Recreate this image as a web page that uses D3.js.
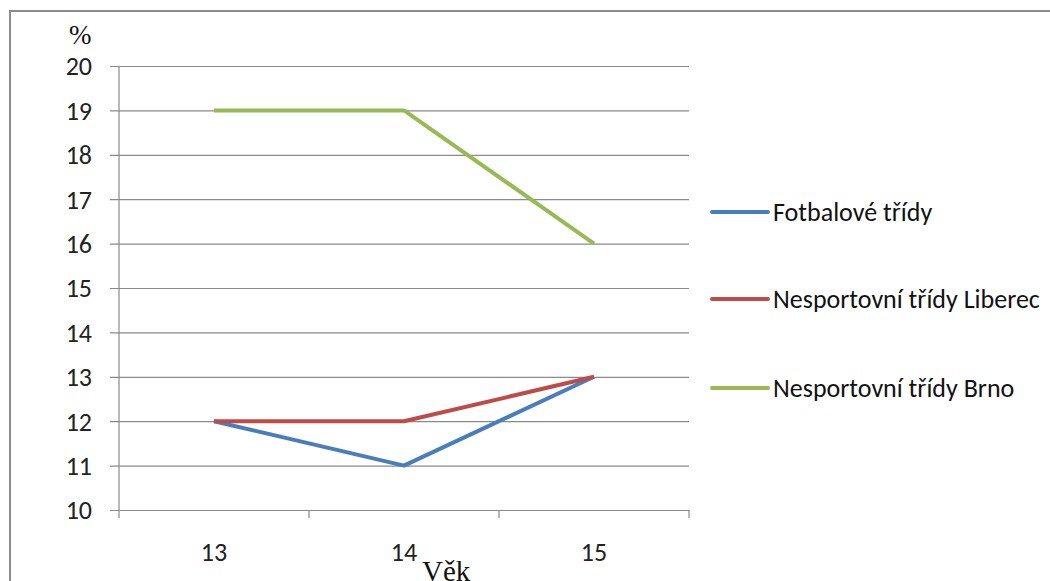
<!DOCTYPE html>
<html>
<head>
<meta charset="utf-8">
<script src="https://cdn.jsdelivr.net/npm/d3@7"></script>
<style>
  html, body { margin: 0; padding: 0; background: #fff; overflow: hidden; }
  svg { display: block; }
</style>
</head>
<body>
<svg id="chart" width="1050" height="581"></svg>
<script>
// Age groups (Věk) and the share (%) per group of classes
const ages = ["13", "14", "15"];
const seriesNames = ["Fotbalové třídy", "Nesportovní třídy Liberec", "Nesportovní třídy Brno"];
const fotbal = [12, 11, 13];
const liberec = [12, 12, 13];
const brno = [19, 19, 16];
const yTicks = [10, 11, 12, 13, 14, 15, 16, 17, 18, 19, 20];
const colors = ["#4a7ebb", "#be4b48", "#98b954"];

const series = [fotbal, liberec, brno].map((vals, i) => ({
  name: seriesNames[i], color: colors[i],
  points: vals.map((v, j) => ({ age: ages[j], value: v }))
}));

const svg = d3.select("#chart");
const font = "Carlito, 'Open Sans', sans-serif";
const serif = "'Liberation Serif', 'Times New Roman', serif";

// outer frame of the chart area
svg.append("rect")
  .attr("x", 10).attr("y", 11).attr("width", 1200).attr("height", 800)
  .attr("fill", "none").attr("stroke", "#8c8c8c").attr("stroke-width", 2);

const plot = { left: 119, right: 689, top: 66, bottom: 510 };

const x = d3.scaleBand().domain(ages).range([plot.left, plot.right]).padding(0);
const y = d3.scaleLinear().domain([10, 20]).range([plot.bottom, plot.top]);

// horizontal gridlines with left tick marks
const yAxis = d3.axisLeft(y).tickValues(yTicks)
  .tickSize(-(plot.right - plot.left)).tickPadding(18).tickFormat(d3.format("d"));
const gy = svg.append("g").attr("transform", `translate(${plot.left},0)`).call(yAxis);
gy.select(".domain").remove();
gy.selectAll(".tick line")
  .attr("x1", -9).attr("x2", plot.right - plot.left)
  .attr("stroke", "#8a8a8a").attr("stroke-width", 1.2);
gy.selectAll(".tick text")
  .attr("x", -27).attr("dy", "0.34em")
  .attr("font-family", font).attr("font-size", 26).attr("fill", "#222");

// vertical axis line
svg.append("line")
  .attr("x1", plot.left).attr("x2", plot.left)
  .attr("y1", plot.top).attr("y2", plot.bottom + 8)
  .attr("stroke", "#8a8a8a").attr("stroke-width", 1.2);

// category boundary ticks below the bottom axis
const bounds = ages.map(a => x(a)).concat([x.range()[1]]);
svg.append("g").selectAll("line").data(bounds.slice(1)).join("line")
  .attr("x1", d => d).attr("x2", d => d)
  .attr("y1", plot.bottom).attr("y2", plot.bottom + 8)
  .attr("stroke", "#8a8a8a").attr("stroke-width", 1.2);

// category labels
svg.append("g").selectAll("text").data(ages).join("text")
  .attr("x", d => x(d) + x.bandwidth() / 2).attr("y", 561)
  .attr("text-anchor", "middle")
  .attr("font-family", font).attr("font-size", 26).attr("fill", "#222")
  .text(d => d);

// axis titles
svg.append("text").attr("x", 69).attr("y", 44)
  .attr("font-family", serif).attr("font-size", 27).attr("fill", "#111").text("%");
svg.append("text").attr("x", 422).attr("y", 581)
  .attr("font-family", serif).attr("font-size", 29).attr("fill", "#111").text("Věk");

// series lines
const line = d3.line()
  .x(d => x(d.age) + x.bandwidth() / 2)
  .y(d => y(d.value));
svg.append("g").selectAll("path").data(series).join("path")
  .attr("d", d => line(d.points))
  .attr("fill", "none").attr("stroke", d => d.color)
  .attr("stroke-width", 4).attr("stroke-linejoin", "round").attr("stroke-linecap", "butt");

// legend
const legendY = [212, 299, 388];
const lg = svg.append("g").selectAll("g").data(series).join("g")
  .attr("transform", (d, i) => `translate(712,${legendY[i]})`);
lg.append("line").attr("x1", 0).attr("x2", 56)
  .attr("stroke", d => d.color).attr("stroke-width", 4).attr("stroke-linecap", "round");
lg.append("text").attr("x", 61).attr("dy", "0.34em")
  .attr("font-family", font).attr("font-size", 26).attr("fill", "#111")
  .text(d => d.name);
</script>
</body>
</html>
